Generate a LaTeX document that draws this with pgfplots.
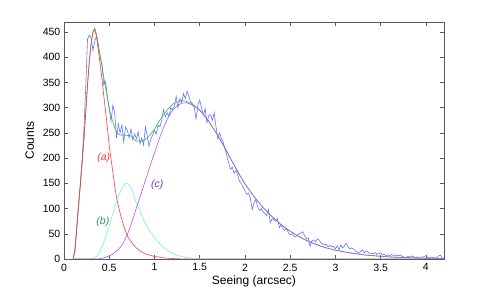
\documentclass[border=0pt]{standalone}
\usepackage{pgfplots}
\pgfplotsset{compat=1.18}
\usepackage{pgfplotstable}
\usepackage{fontspec}
\setmainfont{Liberation Sans}
\definecolor{datablue}{RGB}{95,120,255}
\definecolor{cred}{RGB}{255,60,60}
\definecolor{cgreen}{RGB}{110,250,190}
\definecolor{cpurple}{RGB}{175,85,255}
\definecolor{csum}{RGB}{60,185,60}
\definecolor{lblb}{RGB}{50,150,110}
\definecolor{lblc}{RGB}{120,50,200}
\definecolor{axgray}{RGB}{90,90,90}

\pgfplotstableread{
x a b c s
0.10 1 0 0 1
0.12 15 0 0 15
0.14 58 0 0 58
0.16 104 0 0 104
0.18 146 0 0 146
0.20 190 0 0 190
0.22 237 0 0 237
0.24 290 0 0 290
0.26 345 0 0 345
0.28 393 0 0 393
0.30 428 0 0 428
0.32 450 1 0 451
0.34 455 3 0 458
0.36 440 5 0 445
0.38 414 9 0 423
0.40 386 16 1 403
0.42 356 25 1.5 382.5
0.44 323 34 2.5 359.5
0.46 292 44 3.5 339.5
0.48 260 55 5 320
0.50 225 66 6 297
0.52 198 78 8 284
0.54 172 90 10 272
0.56 146 102 13 261
0.58 123 113 16 252
0.60 106 123 19 248
0.62 91 132 23 246
0.64 78 140 28 246
0.66 66 146 34 246
0.68 55 150 41 246
0.70 46 150 49 245
0.72 40 147 58 245
0.74 35 141 68 244
0.76 30 133 79 242
0.78 26 120 90 236
0.80 22 111 101 234
0.82 19 103 112 234
0.84 16 95 123 234
0.86 14 86 134 234
0.88 12 78 145 235
0.90 10 71 156 237
0.92 9 64 167 240
0.94 8 58 178 244
0.96 7 52 189 248
0.98 6 47 200 253
1.00 5 42 210 257
1.05 4 32 237 273
1.10 2 23 261 286
1.15 1.5 16 280 297.5
1.20 1 11 295 307
1.25 0.5 7 304 311.5
1.30 0.3 5 309 314.3
1.35 0 3 310 313
1.40 0 2 307 309
1.45 0 1 302 303
1.50 0 0.5 295 295.5
1.55 0 0.3 285 285.3
1.60 0 0 273 273
1.65 0 0 259 259
1.70 0 0 245 245
1.75 0 0 229 229
1.80 0 0 213 213
1.85 0 0 196 196
1.90 0 0 180 180
1.95 0 0 164 164
2.00 0 0 149 149
2.10 0 0 124 124
2.20 0 0 102 102
2.30 0 0 84 84
2.40 0 0 68 68
2.50 0 0 55 55
2.60 0 0 44 44
2.70 0 0 35 35
2.80 0 0 28 28
2.90 0 0 22 22
3.00 0 0 17.5 17.5
3.10 0 0 14 14
3.20 0 0 11 11
3.30 0 0 8.5 8.5
3.40 0 0 6.8 6.8
3.50 0 0 5.3 5.3
3.60 0 0 4.1 4.1
3.70 0 0 3.2 3.2
3.80 0 0 2.5 2.5
3.90 0 0 2 2
4.00 0 0 1.5 1.5
4.10 0 0 1.2 1.2
4.20 0 0 0.9 0.9
}\comps

\pgfplotstableread{
x y
0.10 0
0.12 18
0.14 62
0.16 106
0.18 148
0.20 196
0.22 255
0.24 340
0.26 436
0.28 444
0.30 438
0.32 414
0.34 432
0.36 442
0.38 425
0.40 400
0.42 385
0.44 345
0.46 352
0.48 320
0.50 300
0.52 273
0.54 305
0.56 290
0.58 240
0.60 268
0.62 250
0.64 266
0.66 232
0.68 262
0.70 255
0.72 240
0.74 258
0.76 236
0.78 248
0.80 238
0.82 252
0.84 228
0.86 240
0.88 226
0.90 262
0.92 244
0.94 224
0.96 238
0.98 246
1.00 255
1.02 248
1.04 266
1.06 262
1.08 276
1.10 296
1.12 282
1.14 290
1.16 283
1.18 300
1.20 296
1.22 305
1.24 322
1.26 300
1.28 318
1.30 310
1.32 328
1.34 318
1.36 333
1.38 322
1.40 312
1.42 308
1.44 300
1.46 278
1.48 305
1.50 315
1.52 300
1.54 285
1.56 298
1.58 270
1.60 284
1.62 286
1.64 275
1.66 290
1.68 262
1.70 238
1.72 250
1.74 238
1.76 232
1.78 218
1.80 205
1.82 190
1.84 178
1.86 182
1.88 170
1.90 176
1.92 167
1.94 154
1.96 150
1.98 142
2.00 135
2.02 128
2.04 131
2.06 120
2.08 98
2.10 112
2.12 118
2.14 104
2.16 96
2.18 100
2.20 94
2.22 90
2.24 86
2.26 98
2.28 72
2.30 80
2.32 78
2.34 75
2.36 80
2.38 62
2.40 68
2.42 60
2.44 57
2.46 60
2.48 52
2.50 48
2.52 50
2.54 45
2.56 44
2.58 48
2.60 50
2.62 52
2.64 54
2.66 46
2.68 40
2.70 42
2.72 25
2.74 36
2.76 38
2.78 34
2.80 40
2.82 38
2.84 32
2.86 30
2.88 28
2.90 29
2.92 24
2.94 27
2.96 24
2.98 25
3.00 20
3.02 26
3.04 18
3.06 28
3.08 22
3.10 26
3.12 31
3.14 24
3.16 20
3.18 22
3.20 20
3.22 16
3.24 14
3.26 12
3.28 15
3.30 18
3.32 12
3.34 16
3.36 14
3.38 11
3.40 12
3.42 10
3.44 13
3.46 9
3.48 11
3.50 12
3.52 8
3.54 9
3.56 7
3.58 8
3.60 6
3.62 9
3.64 7
3.66 6
3.68 8
3.70 6
3.72 8
3.74 5
3.76 4
3.78 3
3.80 5
3.82 4
3.84 6
3.86 5
3.88 3
3.90 4
3.92 3
3.94 4
3.96 3
3.98 5
4.00 6
4.02 3
4.04 2
4.06 4
4.08 3
4.10 2
4.12 3
4.14 6
4.16 8
4.18 2
4.20 1
}\data

\begin{document}
\fontsize{10.5}{12}\selectfont
\begin{tikzpicture}
\begin{axis}[
  scale only axis,
  width=380pt, height=237pt,
  xmin=0, xmax=4.2, ymin=0, ymax=470,
  xtick={0,0.5,1,1.5,2,2.5,3,3.5,4},
  ytick={0,50,100,150,200,250,300,350,400,450},
  tick align=inside,
  major tick length=4pt,
  axis line style={axgray, line width=0.6pt},
  tick style={axgray, line width=0.5pt},
  /pgf/number format/assume math mode=true,
  tick label style={font=\fontsize{10.5}{12}\selectfont},
  xticklabel style={yshift=-1pt},
  xlabel={Seeing (arcsec)},
  ylabel={Counts},
  label style={font=\fontsize{12}{14}\selectfont},
  xlabel style={at={(axis description cs:0.5,-0.095)}, anchor=center},
  ylabel style={at={(axis description cs:-0.09,0.5)}, anchor=center, rotate=0},
  every axis plot/.append style={line width=0.6pt},
]
\addplot[datablue, no markers] table[x=x, y=y] {\data};
\addplot[csum, no markers] table[x=x, y=s] {\comps};
\addplot[cred, no markers] table[x=x, y=a] {\comps};
\addplot[cgreen, no markers] table[x=x, y=b] {\comps};
\addplot[cpurple, no markers] table[x=x, y=c] {\comps};
\node[text=cred, font=\itshape] at (axis cs:0.44,201) {(a)};
\node[text=lblb, font=\itshape] at (axis cs:0.43,74) {(b)};
\node[text=lblc, font=\itshape] at (axis cs:1.03,147) {(c)};
\end{axis}
\path (current axis.south west) ++(-64pt,-33pt) rectangle ++(491pt,292pt);
\end{tikzpicture}
\end{document}
